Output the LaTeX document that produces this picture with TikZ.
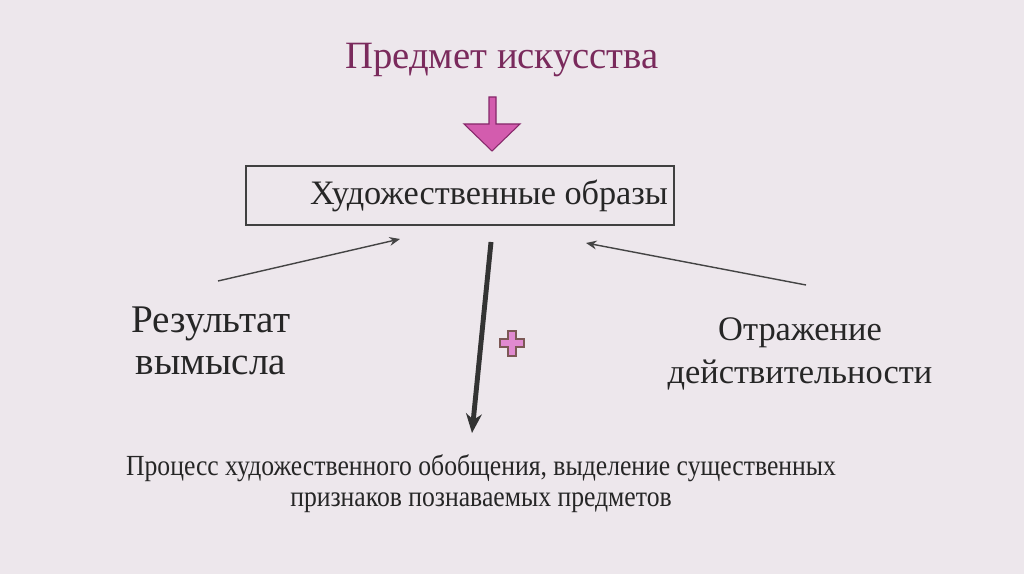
\documentclass[tikz,border=0pt]{standalone}
\usepackage{fontspec}
\setmainfont{Liberation Serif}
\newfontfamily\uzkij[FakeStretch=0.88]{Liberation Serif}
\usetikzlibrary{arrows.meta}

\definecolor{fon}{HTML}{EDE7EC}
\definecolor{zagolovok}{HTML}{7A2A5C}
\definecolor{rozovyj}{HTML}{D35CAE}
\definecolor{rozkraj}{HTML}{86286A}
\definecolor{plusfill}{HTML}{E08AD0}
\definecolor{pluskraj}{HTML}{7C5856}
\definecolor{strelki}{HTML}{444444}

\begin{document}
\begin{tikzpicture}[x=0.02cm, y=-0.02cm,
	every node/.style={font=\fontsize{21}{25}\selectfont, text=black!85, inner sep=0pt},
	tonkaja/.style={draw=strelki, line width=0.8pt, -{Stealth[length=6pt, width=5pt]}},
	tolstaja/.style={draw=black!80, line width=2.8pt, -{Stealth[length=11pt, width=9pt]}}]
			% fon
			\useasboundingbox[fill=fon] (0,0) rectangle (1024,574);
			
			% zagolovok i strelka
			\node[text=zagolovok, font=\fontsize{22}{26}\selectfont] (predmet) at (502, 60) {Предмет искусства};
			\draw[draw=rozkraj, fill=rozovyj, line width=0.6pt]
				(489, 97) -- (496, 97) -- (496, 124) -- (520, 124) -- (492, 151)
				-- (464, 124) -- (489, 124) -- cycle;
			
			% ramka
			\draw[line width=1.4pt, draw=black!75] (246, 166) rectangle (674, 225);
			\node[font=\fontsize{19.5}{24}\selectfont] (obrazy) at (489, 196) {Художественные образы};
			\coordinate (obr-l) at (400, 239);
			\coordinate (obr-p) at (586, 243);
			\coordinate (obr-n) at (491, 242);
			
			% levo i pravo
			\node[align=center, font=\fontsize{22.3}{24}\selectfont] (vymysel) at (211, 341) {Результат\\вымысла};
			\node[align=center, font=\fontsize{19.6}{24}\selectfont] (otrazh) at (800, 354) {Отражение\\действительности};
			\coordinate (vym-v) at (218, 281);
			\coordinate (otr-v) at (806, 285);
			
			\draw[tonkaja] (vym-v) -- (obr-l);
			\draw[tonkaja] (otr-v) -- (obr-p);
			
			% plus
			\draw[draw=pluskraj, fill=plusfill, line width=1.3pt]
				(508, 331) -- (516, 331) -- (516, 339) -- (524, 339) -- (524, 347) -- (516, 347)
				-- (516, 356) -- (508, 356) -- (508, 347) -- (500, 347) -- (500, 339) -- (508, 339) -- cycle;
			
			% niz
			\coordinate (proc-v) at (472, 433);
			\draw[tolstaja] (obr-n) -- (proc-v);
			\node[align=center, font=\uzkij\fontsize{16.6}{17.5}\selectfont] (process) at (481, 484)
				{Процесс художественного обобщения, выделение существенных\\признаков познаваемых предметов};
		\end{tikzpicture}
\end{document}
